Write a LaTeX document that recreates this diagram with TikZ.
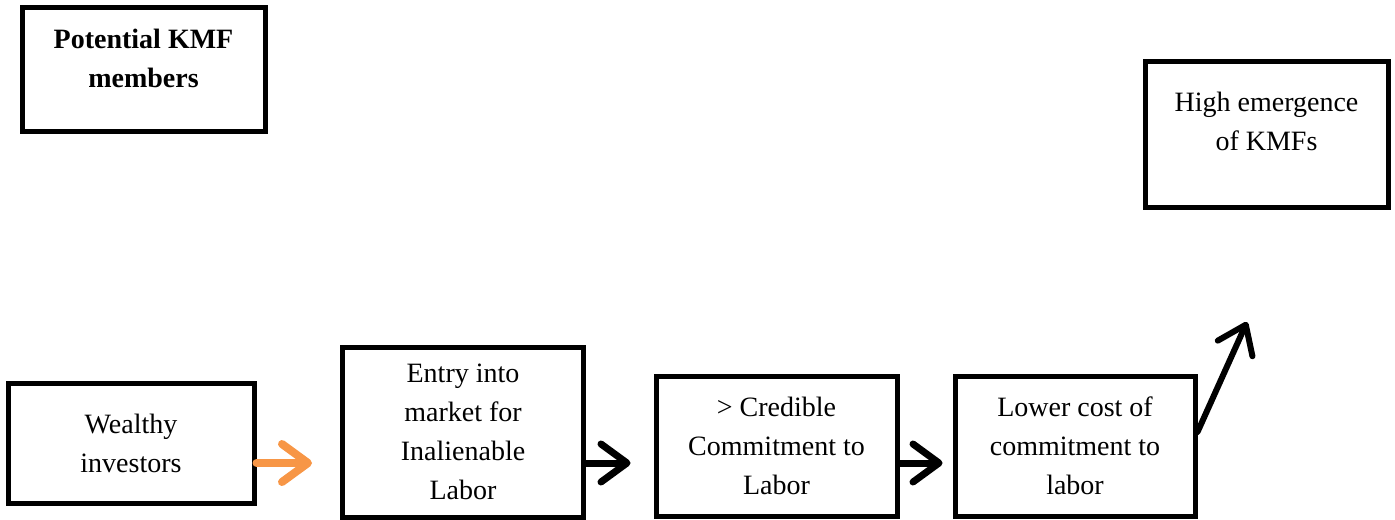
\documentclass[tikz,border=0pt]{standalone}
\usepackage{fontspec}
\setmainfont{Liberation Serif}
\usetikzlibrary{arrows.meta}
\definecolor{kmforange}{RGB}{247,150,70}

\begin{document}
\begin{tikzpicture}[x=0.5pt, y=-0.5pt,
        stage/.style={rectangle, draw=black, line width=2.5pt, align=center, inner sep=0pt, font=\fontsize{14}{19.5}\selectfont},
        push/.style={line width=3.5pt, line cap=round, -{Straight Barb[length=13pt, width=19pt, round]}}]

        \useasboundingbox (0,0) rectangle (1395,519);

        \node[stage, minimum width=121.5pt, minimum height=61.5pt, font=\bfseries\fontsize{14}{19.5}\selectfont] (kmf) at (143.5,69.5) {Potential KMF\\members\\[-8pt]\mbox{}};
        \node[stage, minimum width=121.5pt, minimum height=72.5pt] (high) at (1266.5,134.5) {High emergence\\of KMFs\\[-6pt]\mbox{}};

        \node[stage, minimum width=123pt, minimum height=60pt] (wealthy) at (131,443) {Wealthy\\investors};
        \node[stage, minimum width=120.5pt, minimum height=85pt] (entry) at (463,432) {Entry into\\market for\\Inalienable\\Labor};
        \node[stage, minimum width=120.5pt, minimum height=70pt] (cred) at (776.5,446) {> Credible\\Commitment to\\Labor};
        \node[stage, minimum width=120pt, minimum height=70pt] (lower) at (1075,446) {Lower cost of\\commitment to\\labor};

        \coordinate (lane) at (0,463);
        \coordinate (rise) at (1247,322);

        \draw[push, draw=kmforange, line width=4pt, shorten >=14pt] (wealthy.east |- lane) -- (entry.west |- lane);
        \draw[push, shorten >=11.5pt] (entry.east |- lane) -- (cred.west |- lane);
        \draw[push, shorten >=5pt] (cred.east |- lane) -- (lower.west |- lane);
        \draw[push, line width=3pt] ([yshift=7pt]lower.east) -- (rise);

    \end{tikzpicture}
\end{document}
